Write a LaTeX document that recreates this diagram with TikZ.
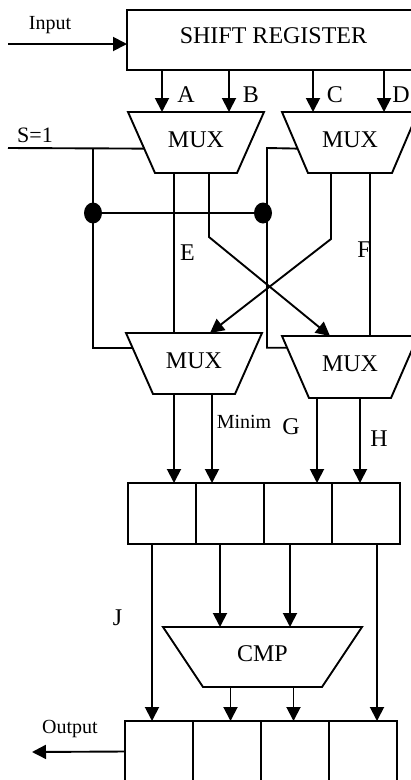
\documentclass[tikz,border=0pt]{standalone}
\usepackage{fontspec}
\setmainfont{Liberation Serif}
\usetikzlibrary{positioning,arrows.meta,calc,shapes.geometric}

\begin{document}
\begin{tikzpicture}[
  x=1pt, y=-1pt,
  line width=1.9pt,
  every node/.style={inner sep=0pt,outer sep=0pt},
  big/.style={font=\fontsize{24}{28}\selectfont},
  small/.style={font=\fontsize{20}{24}\selectfont},
  lbl/.style={big,anchor=base},
  slbl/.style={small,anchor=base},
  blk/.style={big,minimum width=136pt,minimum height=61pt,text depth=6pt},
  cell/.style={draw,minimum width=68pt,minimum height=61pt},
  dot/.style={ellipse,fill,minimum width=18pt,minimum height=21pt},
  arr/.style={-{Triangle[length=14pt,width=14pt]}}
]
\useasboundingbox (0,0) rectangle (411,780);

% shift register and the four multiplexers
\node[blk,draw,minimum width=293pt,minimum height=60pt,text depth=8pt] (reg) at (273.5,40) {SHIFT REGISTER};
\node[blk] (mux1) at (196,142.5) {MUX};
\node[blk] (mux2) at (350,142.5) {MUX};
\node[blk] (mux3) at (194,363.5) {MUX};
\node[blk,minimum height=62pt] (mux4) at (350,367) {MUX};
\node[blk,minimum width=199pt,minimum height=60pt] (cmp) at (262.5,657) {CMP};
\foreach \m/\d in {mux1/27,mux2/26,mux3/27,mux4/27,cmp/40}
  \draw (\m.north west) -- (\m.north east) -- ([xshift=-\d pt]\m.south east) -- ([xshift=\d pt]\m.south west) -- cycle;

% registers
\node[cell] (r1a) at (162,513.5) {};
\node[cell,right=0pt of r1a] (r1b) {};
\node[cell,right=0pt of r1b] (r1c) {};
\node[cell,right=0pt of r1c] (r1d) {};
\node[cell] (r2a) at (159,751.5) {};
\node[cell,right=0pt of r2a] (r2b) {};
\node[cell,right=0pt of r2b] (r2c) {};
\node[cell,right=0pt of r2c] (r2d) {};

% labels
\node[slbl] (inlbl) at (50,29) {Input};
\node[slbl] (outlbl) at (70,733) {Output};
\node[small,font=\fontsize{22}{26}\selectfont,anchor=base] (slbl1) at (35,142) {S=1};
\node[lbl] (la) at (186,102) {A};
\node[lbl] (lb) at (251,102) {B};
\node[lbl] (lc) at (335,102) {C};
\node[lbl] (ld) at (401,102) {D};
\node[lbl] (le) at (187.5,260) {E};
\node[lbl] (lf) at (364,257) {F};
\node[slbl] (lminim) at (244,428) {Minim};
\node[lbl] (lg) at (291,434) {G};
\node[lbl] (lh) at (379,446) {H};
\node[lbl] (lj) at (117.5,625) {J};

% input and output
\coordinate (inp) at (8,44);
\coordinate (outp) at (32,752);
\draw[arr] (inp) -- (inp -| reg.west);
\draw[arr] (r2a.west) -- (outp);

% register outputs A--D
\draw[arr] ([xshift=-34pt]mux1.north |- reg.south) -- ([xshift=-34pt]mux1.north);
\draw[arr] ([xshift=33pt]mux1.north |- reg.south) -- ([xshift=33pt]mux1.north);
\draw[arr] ([xshift=-37pt]mux2.north |- reg.south) -- ([xshift=-37pt]mux2.north);
\draw[arr] ([xshift=34pt]mux2.north |- reg.south) -- ([xshift=34pt]mux2.north);

% select line
\coordinate (s1) at (8,148);
\coordinate (j1) at (93,148);
\coordinate (j2) at (267,148);
\draw (s1) -- ($(mux1.north west)!0.6!([xshift=27pt]mux1.south west)$);
\draw (j1) |- ($(mux3.north west)!0.25!([xshift=27pt]mux3.south west)$);
\draw ($(mux2.north west)!0.6!([xshift=26pt]mux2.south west)$) -- (j2) |- ($(mux4.north west)!0.19!([xshift=27pt]mux4.south west)$);
\node[dot] (d1) at (93,213) {};
\node[dot] (d2) at (263,213) {};
\draw (d1) -- (d2);

% E, F and the crossing
\draw ([xshift=-22pt]mux1.south) -- ([xshift=-22pt]mux1.south |- mux3.north);
\draw ([xshift=20pt]mux2.south) -- ([xshift=20pt]mux2.south |- mux4.north);
\draw[arr] ([xshift=13pt]mux1.south) -- ++(0,64) -- ([xshift=-20pt]mux4.north);
\draw[arr] ([xshift=-19pt]mux2.south) -- ++(0,66) -- ([xshift=16pt]mux3.north);

% into first register
\draw[arr] ([xshift=-20pt]mux3.south) -- ([xshift=-20pt]mux3.south |- r1a.north);
\draw[arr] ([xshift=18pt]mux3.south) -- ([xshift=18pt]mux3.south |- r1a.north);
\draw[arr] ([xshift=-33pt]mux4.south) -- ([xshift=-33pt]mux4.south |- r1a.north);
\draw[arr] ([xshift=10pt]mux4.south) -- ([xshift=10pt]mux4.south |- r1a.north);

% first register to compare and second register
\draw[arr] ([xshift=-10pt]r1a.south) -- ([xshift=-10pt]r1a.south |- r2a.north);
\draw[arr] ([xshift=-10pt]r1b.south) -- ([xshift=-10pt]r1b.south |- cmp.north);
\draw[arr] ([xshift=-8pt]r1c.south) -- ([xshift=-8pt]r1c.south |- cmp.north);
\draw[arr] ([xshift=11pt]r1d.south) -- ([xshift=11pt]r1d.south |- r2a.north);
\draw[arr] ([xshift=-32pt]cmp.south) -- ([xshift=-32pt]cmp.south |- r2a.north);
\draw[arr] ([xshift=31pt]cmp.south) -- ([xshift=31pt]cmp.south |- r2a.north);
\end{tikzpicture}
\end{document}
